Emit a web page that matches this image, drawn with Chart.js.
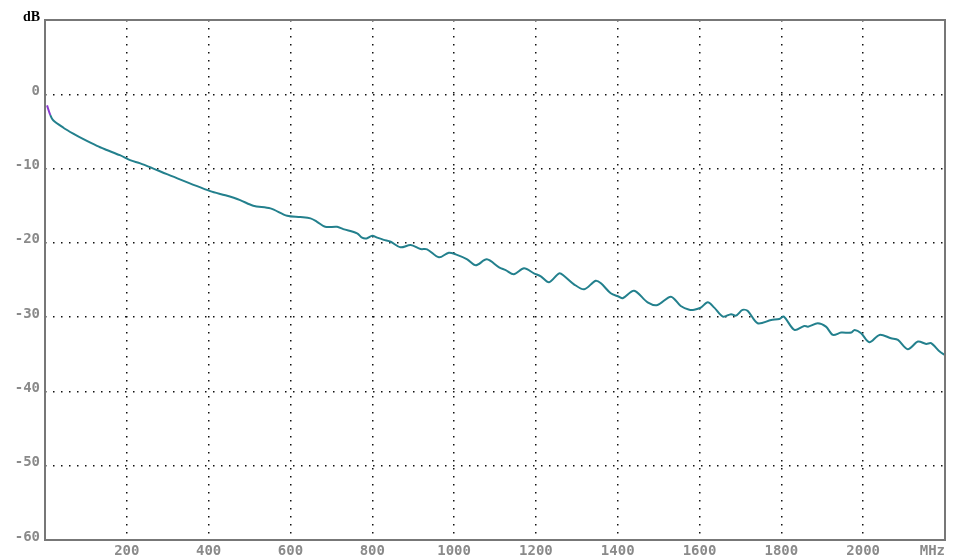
<!DOCTYPE html>
<html>
<head>
<meta charset="utf-8">
<script src="https://cdn.jsdelivr.net/npm/chart.js@4.4.1/dist/chart.umd.min.js"></script>
<style>
  html, body { margin: 0; padding: 0; background: #fff; }
  #wrap { width: 960px; height: 560px; }
</style>
</head>
<body>
<div id="wrap"><canvas id="c" width="960" height="560"></canvas></div>
<script>
const freqMHz = [5, 13, 20, 45, 69, 94, 127, 151, 183, 208, 233, 265, 298,
  404, 441, 477, 509, 551, 592, 624, 649, 665, 685, 714, 729, 763, 775, 786, 800, 812, 828,
  845, 869, 894, 918, 934, 963, 987, 1004, 1032, 1053, 1080, 1110, 1126, 1146, 1171, 1195,
  1212, 1232, 1257, 1269, 1293, 1318, 1346, 1359, 1383, 1403, 1412, 1440, 1473, 1497, 1530, 1554, 1575,
  1587, 1603, 1620, 1636, 1657, 1677, 1689, 1705, 1718, 1742, 1775, 1795, 1806, 1832, 1856, 1865, 1889,
  1909, 1926, 1946, 1971, 1979, 1995, 2015, 2040, 2068, 2085, 2109, 2134, 2154, 2166, 2187, 2199];
const levelDb = [-1.5, -2.8, -3.5, -4.5, -5.3, -6.05, -6.95, -7.5, -8.2, -8.87, -9.3, -10.0, -10.75,
  -13.04, -13.6, -14.25, -15.0, -15.36, -16.36, -16.53, -16.7, -17.16, -17.84, -17.84, -18.15, -18.72, -19.3, -19.4, -19.05, -19.3, -19.6,
  -19.85, -20.6, -20.3, -20.83, -20.87, -21.95, -21.33, -21.55, -22.22, -23.02, -22.22, -23.3, -23.66, -24.23, -23.43, -24.1,
  -24.5, -25.3, -24.1, -24.46, -25.58, -26.25, -25.1, -25.44, -26.79, -27.25, -27.46, -26.44, -28.0, -28.36, -27.25, -28.5, -29.0,
  -29.0, -28.72, -28.0, -28.72, -29.93, -29.6, -29.8, -29.03, -29.17, -30.82, -30.38, -30.24, -29.93, -31.72, -31.18, -31.28, -30.82,
  -31.28, -32.39, -32.08, -32.08, -31.72, -32.16, -33.37, -32.39, -32.84, -33.06, -34.31, -33.29, -33.6, -33.51, -34.64, -35.08];
const xTicks = { min: 0, max: 2200, step: 200, unitLabel: 'MHz' };
const yTicks = { min: -60, max: 10, step: 10, unitLabel: 'dB' };

const points = freqMHz.map((f, i) => ({ x: f, y: levelDb[i] }));

const framePlugin = {
  id: 'frame',
  afterDatasetsDraw(chart) {
    const { ctx, chartArea: a } = chart;
    ctx.save();
    ctx.strokeStyle = '#777';
    ctx.lineWidth = 2;
    ctx.strokeRect(a.left, a.top, a.right - a.left, a.bottom - a.top);
    ctx.restore();
  }
};

const tickFont = { family: 'DejaVu Sans Mono', size: 14, weight: 'bold' };
const gridCommon = { color: '#111', lineWidth: 1.5, drawTicks: false };
const borderCommon = { display: false, dash: [1.5, 6.5] };

new Chart(document.getElementById('c'), {
  type: 'line',
  data: {
    datasets: [{
      data: points,
      borderColor: '#23808d',
      borderWidth: 2,
      pointRadius: 0,
      tension: 0.3,
      fill: false,
      segment: {
        borderColor: ctx => ctx.p0DataIndex === 0 ? '#8a3ad0' : undefined
      }
    }]
  },
  options: {
    responsive: false,
    animation: false,
    events: [],
    layout: { padding: { top: 20, right: 15, left: 0, bottom: 0 } },
    plugins: { legend: { display: false }, tooltip: { enabled: false } },
    scales: {
      x: {
        type: 'linear',
        min: xTicks.min, max: xTicks.max,
        afterFit(s) { s.height = 20; },
        border: borderCommon,
        grid: gridCommon,
        ticks: {
          stepSize: xTicks.step,
          autoSkip: false,
          maxRotation: 0,
          align: 'inner',
          padding: 3,
          color: '#8a8a8a',
          font: tickFont,
          callback: v => v === xTicks.min ? '' : (v === xTicks.max ? xTicks.unitLabel : String(v))
        }
      },
      y: {
        type: 'linear',
        min: yTicks.min, max: yTicks.max,
        afterFit(s) { s.width = 45; },
        border: borderCommon,
        grid: gridCommon,
        ticks: {
          stepSize: yTicks.step,
          autoSkip: false,
          padding: 5,
          labelOffset: -3,
          color: c => c.tick && c.tick.value === yTicks.max ? '#000' : '#8a8a8a',
          font: c => c.tick && c.tick.value === yTicks.max
            ? { family: 'Liberation Serif', size: 14, weight: 'bold' }
            : tickFont,
          callback: v => v === yTicks.max ? yTicks.unitLabel : String(v)
        }
      }
    }
  },
  plugins: [framePlugin]
});
</script>
</body>
</html>
